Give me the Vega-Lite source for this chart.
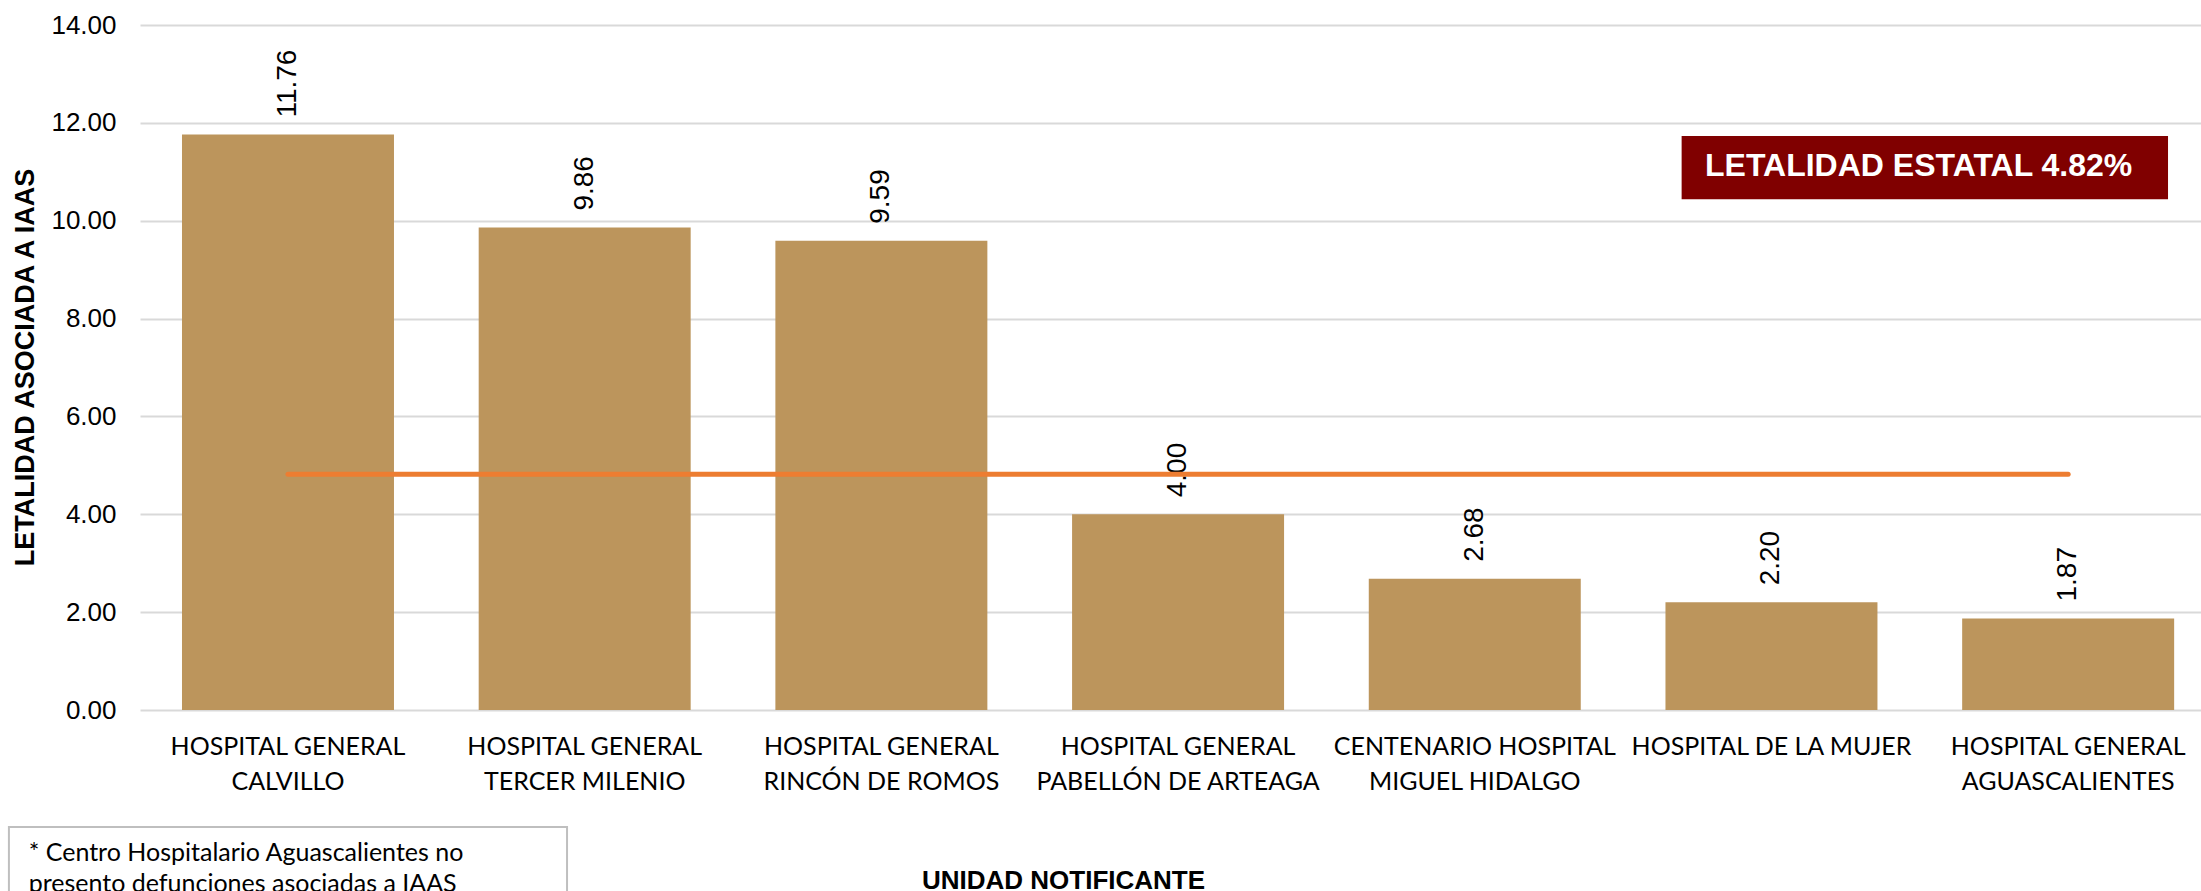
{
  "$schema": "https://vega.github.io/schema/vega-lite/v6.json",
  "width": 2061,
  "height": 685,
  "autosize": {"type": "none"},
  "padding": {"left": 140, "top": 25, "right": 0, "bottom": 181},
  "background": "white",
  "config": {"view": {"stroke": null}},
  "datasets": {
    "main": [
      {"unidad": "HOSPITAL GENERAL|CALVILLO", "letalidad": 11.76, "estatal": 4.82},
      {"unidad": "HOSPITAL GENERAL|TERCER MILENIO", "letalidad": 9.86, "estatal": 4.82},
      {"unidad": "HOSPITAL GENERAL|RINCÓN DE ROMOS", "letalidad": 9.59, "estatal": 4.82},
      {"unidad": "HOSPITAL GENERAL|PABELLÓN DE ARTEAGA", "letalidad": 4.00, "estatal": 4.82},
      {"unidad": "CENTENARIO HOSPITAL|MIGUEL HIDALGO", "letalidad": 2.68, "estatal": 4.82},
      {"unidad": "HOSPITAL DE LA MUJER", "letalidad": 2.20, "estatal": 4.82},
      {"unidad": "HOSPITAL GENERAL|AGUASCALIENTES", "letalidad": 1.87, "estatal": 4.82}
    ],
    "caja": [{"texto": "LETALIDAD ESTATAL 4.82%"}],
    "nota": [{"texto": ["* Centro Hospitalario Aguascalientes no", "presento defunciones asociadas a IAAS"]}]
  },
  "resolve": {"scale": {"x": "independent"}},
  "layer": [
    {
      "data": {"name": "main"},
      "encoding": {
        "x": {
          "field": "unidad",
          "type": "nominal",
          "sort": null,
          "scale": {"paddingInner": 0.2855, "paddingOuter": 0.116, "align": 0.61},
          "axis": {
            "labelExpr": "split(datum.label, '|')",
            "labelAngle": 0,
            "labelFont": "Lato",
            "labelFontSize": 25,
            "labelLineHeight": 35,
            "labelColor": "#000000",
            "labelPadding": 24,
            "labelLimit": 500,
            "labelOverlap": false,
            "labelBound": false,
            "ticks": false,
            "domain": false,
            "grid": false,
            "title": "UNIDAD NOTIFICANTE",
            "titleFont": "Liberation Sans",
            "titleFontSize": 26,
            "titleFontWeight": "bold",
            "titleColor": "#000000",
            "titleX": 923,
            "titleY": 170,
            "titleAlign": "center",
            "titleBaseline": "middle"
          }
        },
        "y": {
          "field": "letalidad",
          "type": "quantitative",
          "scale": {"domain": [0, 14], "nice": false},
          "axis": {
            "values": [0, 2, 4, 6, 8, 10, 12, 14],
            "format": ".2f",
            "labelFont": "Liberation Sans",
            "labelFontSize": 26,
            "labelColor": "#000000",
            "labelPadding": 24,
            "grid": true,
            "gridColor": "#d9d9d9",
            "gridWidth": 2,
            "domain": false,
            "ticks": false,
            "title": "LETALIDAD ASOCIADA A IAAS",
            "titleFont": "Liberation Sans",
            "titleFontSize": 27,
            "titleFontWeight": "bold",
            "titleColor": "#000000",
            "titleAngle": 270,
            "titleX": -115,
            "titleY": 342,
            "titleAlign": "center",
            "titleBaseline": "middle"
          }
        }
      },
      "layer": [
        {"mark": {"type": "bar", "color": "#BC955C"}},
        {
          "mark": {"type": "text", "angle": 270, "align": "left", "baseline": "middle", "dx": 17, "font": "Liberation Sans", "fontSize": 28, "color": "#000000"},
          "encoding": {"text": {"field": "letalidad", "type": "quantitative", "format": ".2f"}}
        },
        {
          "mark": {"type": "line", "color": "#ED7D31", "strokeWidth": 5, "strokeCap": "round"},
          "encoding": {"y": {"field": "estatal", "type": "quantitative"}}
        }
      ]
    },
    {
      "data": {"name": "caja"},
      "mark": {"type": "rect", "color": "#800000"},
      "encoding": {
        "x": {"datum": 74.8, "type": "quantitative", "scale": {"domain": [0, 100]}, "axis": null},
        "x2": {"datum": 98.4},
        "y": {"datum": 11.73, "type": "quantitative"},
        "y2": {"datum": 10.44}
      }
    },
    {
      "data": {"name": "caja"},
      "mark": {"type": "text", "align": "center", "baseline": "middle", "font": "Liberation Sans", "fontSize": 32, "fontWeight": "bold", "color": "#ffffff"},
      "encoding": {
        "x": {"datum": 86.3, "type": "quantitative", "scale": {"domain": [0, 100]}, "axis": null},
        "y": {"datum": 11.12, "type": "quantitative"},
        "text": {"field": "texto"}
      }
    },
    {
      "data": {"name": "nota"},
      "mark": {"type": "rect", "fill": "#ffffff", "stroke": "#bfbfbf", "strokeWidth": 2},
      "encoding": {
        "x": {"datum": -6.36, "type": "quantitative", "scale": {"domain": [0, 100]}, "axis": null},
        "x2": {"datum": 20.72},
        "y": {"datum": -2.39, "type": "quantitative"},
        "y2": {"datum": -4.2}
      }
    },
    {
      "data": {"name": "nota"},
      "mark": {"type": "text", "align": "left", "baseline": "alphabetic", "font": "Lato", "fontSize": 25, "lineHeight": 31, "color": "#000000"},
      "encoding": {
        "x": {"datum": -5.4, "type": "quantitative", "scale": {"domain": [0, 100]}, "axis": null},
        "y": {"datum": -3.09, "type": "quantitative"},
        "text": {"field": "texto"}
      }
    }
  ]
}
